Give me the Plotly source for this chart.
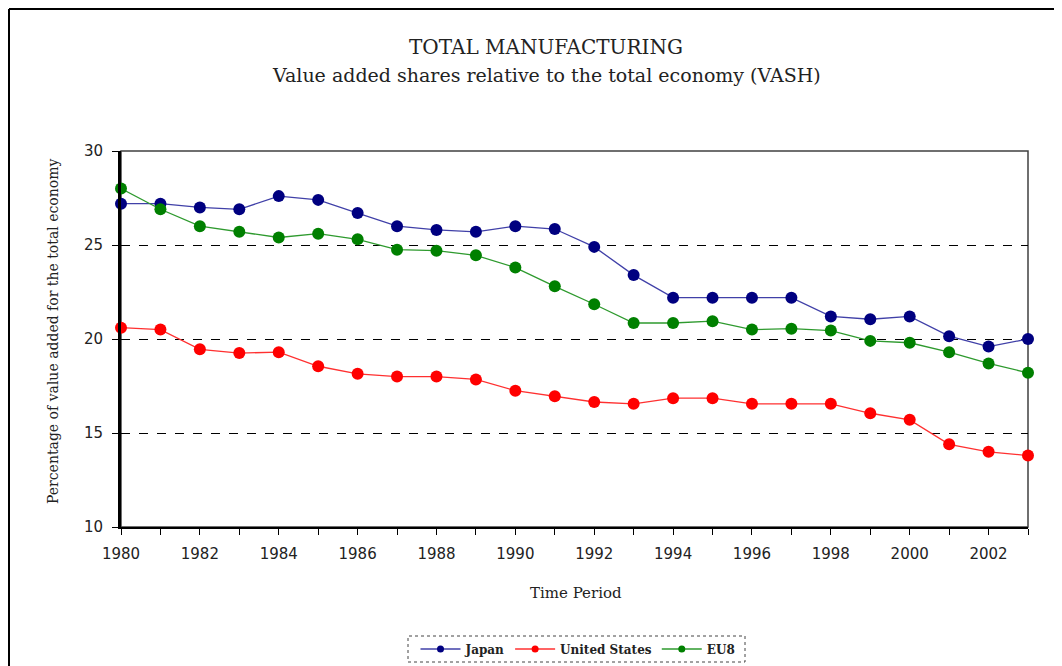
import plotly.graph_objects as go

years = list(range(1980, 2004))

japan = [27.2, 27.2, 27.0, 26.9, 27.6, 27.4, 26.7, 26.0, 25.8, 25.7, 26.0, 25.85,
         24.9, 23.4, 22.2, 22.2, 22.2, 22.2, 21.2, 21.05, 21.2, 20.15, 19.6, 20.0]
united_states = [20.6, 20.5, 19.45, 19.25, 19.3, 18.55, 18.15, 18.0, 18.0, 17.85, 17.25, 16.95,
                 16.65, 16.55, 16.85, 16.85, 16.55, 16.55, 16.55, 16.05, 15.7, 14.4, 14.0, 13.8]
eu8 = [28.0, 26.9, 26.0, 25.7, 25.4, 25.6, 25.3, 24.75, 24.7, 24.45, 23.8, 22.8,
       21.85, 20.85, 20.85, 20.95, 20.5, 20.55, 20.45, 19.9, 19.8, 19.3, 18.7, 18.2]

series = [
    ("Japan", japan, "#000080", "#4040a8"),
    ("United States", united_states, "#ff0000", "#ff3030"),
    ("EU8", eu8, "#008000", "#2e9a2e"),
]

tick_text = [str(y) if y % 2 == 0 else "" for y in years]

fig = go.Figure()
for name, vals, mcol, lcol in series:
    fig.add_trace(go.Scatter(
        x=years, y=vals, mode="lines+markers", name=name, showlegend=False,
        line=dict(color=lcol, width=1.3),
        marker=dict(color=mcol, size=12),
        cliponaxis=False,
    ))
# small markers for the legend
for name, vals, mcol, lcol in series:
    fig.add_trace(go.Scatter(
        x=[None], y=[None], mode="lines+markers", name=name,
        line=dict(color=lcol, width=1.3),
        marker=dict(color=mcol, size=7),
    ))

# page has an 8px body margin, so the figure is offset by 8px
W, H = 1054, 658
L, R, T, B = 121, 1028, 151, 527   # plot area in page pixels
OFF = 8

def px_x(p):
    return (p - L) / (R - L)

def px_y(p):
    return (B - p) / (B - T)

serif = "DejaVu Serif"
txt = "#222222"

def label(text, x, y, size, angle=0):
    return dict(text=text, xref="paper", yref="paper", x=px_x(x), y=px_y(y),
                xanchor="center", yanchor="middle", textangle=angle, showarrow=False,
                font=dict(family=serif, size=size, color=txt))

fig.update_layout(
    width=W, height=H,
    margin=dict(l=L - OFF, r=W - (R - OFF), t=T - OFF, b=H - (B - OFF), autoexpand=False),
    paper_bgcolor="white", plot_bgcolor="white",
    showlegend=True,
    legend=dict(
        orientation="h", x=px_x(578), xanchor="center", y=px_y(649), yanchor="middle",
        font=dict(family=serif, size=12, color=txt, weight="bold"),
        bgcolor="rgba(0,0,0,0)", itemwidth=40, tracegroupgap=0,
    ),
    xaxis=dict(
        range=[1980, 2003], tickvals=years, ticktext=tick_text,
        showgrid=False, zeroline=False,
        showline=True, linecolor="black", linewidth=1.5,
        ticks="outside", ticklen=6, tickcolor="black", tickwidth=1,
        ticklabelstandoff=6,
        tickfont=dict(family="DejaVu Sans", size=15, color=txt),
    ),
    yaxis=dict(
        range=[10, 30], tickvals=[10, 15, 20, 25, 30],
        showgrid=True, gridcolor="black", gridwidth=1, griddash="dash",
        zeroline=False,
        showline=True, linecolor="black", linewidth=3,
        ticks="outside", ticklen=6, tickcolor="black", tickwidth=1,
        ticklabelstandoff=6,
        tickfont=dict(family="DejaVu Sans", size=15, color=txt),
    ),
    shapes=[
        # plot frame (top/right)
        dict(type="rect", xref="paper", yref="paper", x0=0, x1=1, y0=0, y1=1,
             line=dict(color="#404040", width=1.5), layer="below"),
        # legend box
        dict(type="rect", xref="paper", yref="paper",
             x0=px_x(408), x1=px_x(745), y0=px_y(662), y1=px_y(636),
             line=dict(color="#444444", width=1, dash="dot")),
        # outer border (top and left)
        dict(type="line", xref="paper", yref="paper",
             x0=px_x(9), x1=px_x(1062), y0=px_y(9), y1=px_y(9),
             line=dict(color="black", width=2)),
        dict(type="line", xref="paper", yref="paper",
             x0=px_x(9), x1=px_x(9), y0=px_y(9), y1=px_y(666),
             line=dict(color="black", width=2)),
    ],
    annotations=[
        label("TOTAL MANUFACTURING", 546, 47, 20),
        label("Value added shares relative to the total economy (VASH)", 546, 75, 19),
        label("Time Period", 576, 593, 15),
        label("Percentage of value added for the total economy", 53, 332, 14, angle=-90),
    ],
)

fig.write_html("out.html")
